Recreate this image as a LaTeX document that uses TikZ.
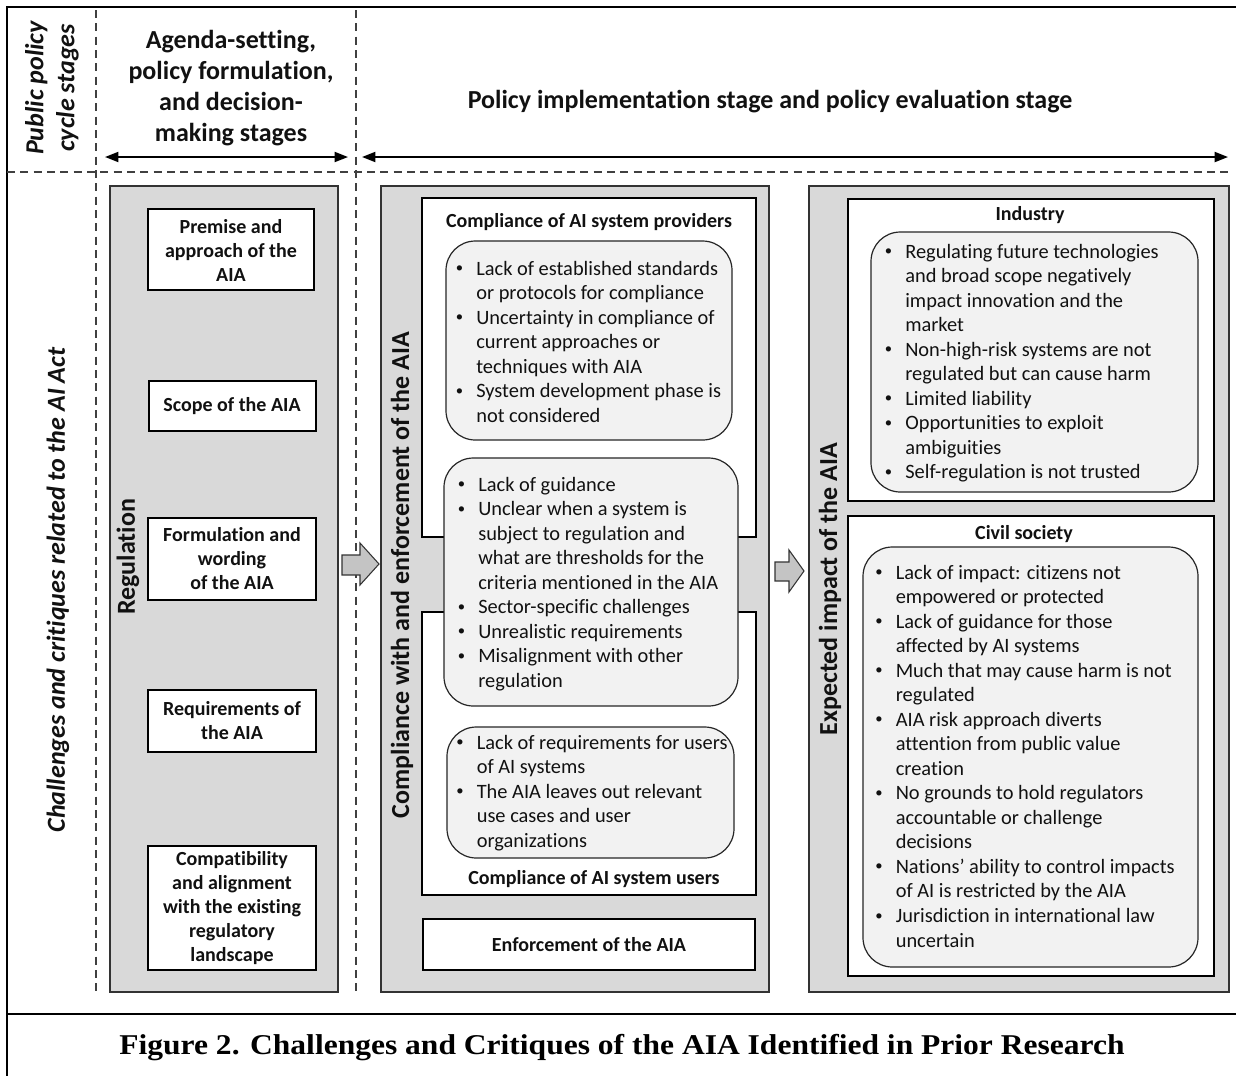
\documentclass[tikz,border=0pt]{standalone}
\usepackage{fontspec}
\setmainfont{Carlito}[Ligatures=NoCommon]
\newfontfamily\capfont{Liberation Serif}
\usetikzlibrary{arrows.meta,fit}
\definecolor{panelgray}{HTML}{D9D9D9}
\definecolor{bubblegray}{HTML}{F2F2F2}
\definecolor{arrowgray}{HTML}{C4C4C4}
\definecolor{ink}{HTML}{111111}
\newcommand\bul{\raisebox{0.12em}{\fontsize{11}{11}\selectfont •}}
\newcommand\blist[1]{\begin{tabular}[t]{@{}p{15.4pt}@{}l@{}}#1\end{tabular}}
\begin{document}
\begin{tikzpicture}[x=0.75pt,y=-0.75pt,
  panel/.style={draw=black!80, line width=1.5pt, fill=panelgray, inner sep=0pt},
  wbox/.style={draw=black, line width=2.2pt, fill=white, inner sep=0pt},
  bubble/.style={draw=black!85, line width=0.9pt, fill=bubblegray, rounded corners=22pt, inner sep=0pt},
  boxtext/.style={font=\bfseries\fontsize{15}{18}\selectfont, align=center, inner sep=0pt, text=ink},
  bigtext/.style={font=\bfseries\fontsize{19.5}{23.25}\selectfont, align=center, inner sep=0pt, text=ink},
  listtext/.style={font=\fontsize{15.3}{18.4}\selectfont, inner sep=0pt, anchor=base west, text=ink},
  dashline/.style={dash pattern=on 6pt off 4pt, line width=0.9pt, draw=black!75},
  frameline/.style={line width=1.8pt},
  dbl/.style={line width=1.4pt, {Triangle[length=10pt,width=7.5pt]}-{Triangle[length=10pt,width=7.5pt]}},
  blockarrow/.style={fill=arrowgray, draw=black!80, line width=0.8pt, line join=miter}]
\useasboundingbox (0,0) rectangle (1236,1076);
% frame
\coordinate (ftl) at (7,7);
\coordinate (ftr) at (1236,7);
\coordinate (fbl) at (7,1076);
\coordinate (cl) at (7,1014);
\coordinate (cr) at (1236,1014);
\draw[frameline] (ftr) -- (ftl) -- (fbl);
\draw[frameline] (cl) -- (cr);
% dashed grid
\coordinate (d1t) at (96,10); \coordinate (d1b) at (96,995);
\coordinate (d2t) at (356,10); \coordinate (d2b) at (356,995);
\coordinate (dhl) at (7,172); \coordinate (dhr) at (1230,172);
\draw[dashline] (d1t) -- (d1b);
\draw[dashline] (d2t) -- (d2b);
\draw[dashline] (dhl) -- (dhr);
% top headings
\node[bigtext, font=\bfseries\itshape\fontsize{19.5}{23.25}\selectfont, rotate=90] (pps) at (52,88) {Public policy\\cycle stages};
\node[bigtext] (agenda) at (231,88) {Agenda-setting,\\policy formulation,\\and decision-\\making stages};
\node[bigtext] (impl) at (770,102) {Policy implementation stage and policy evaluation stage};
\coordinate (a1l) at (105,157); \coordinate (a1r) at (348,157);
\coordinate (a2l) at (362,157); \coordinate (a2r) at (1228,157);
\draw[dbl] (a1l) -- (a1r);
\draw[dbl] (a2l) -- (a2r);
% left rotated label
\node[bigtext, font=\bfseries\itshape\fontsize{19.5}{23.25}\selectfont, rotate=90] (chal) at (58,590) {Challenges and critiques related to the AI Act};
% panels
\node[panel, fit={(110,186) (338,992)}] (regp) {};
\node[panel, fit={(381,186) (769,992)}] (compp) {};
\node[panel, fit={(809,186) (1229,992)}] (impp) {};
\node[bigtext, rotate=90] (reglab) at (128,557) {Regulation};
\node[bigtext, rotate=90] (complab) at (402,575) {Compliance with and enforcement of the AIA};
\node[bigtext, rotate=90] (implab) at (830,589) {Expected impact of the AIA};
% left boxes
\node[wbox, fit={(148,209) (314,290)}] (premb) {};
\node[boxtext] (premt) at (231,250) {Premise and\\approach of the\\AIA};
\node[wbox, fit={(149,381) (316,431)}] (scopeb) {};
\node[boxtext] (scopet) at (232,406) {Scope of the AIA};
\node[wbox, fit={(148,518) (316,600)}] (formb) {};
\node[boxtext] (formt) at (232,559) {Formulation and\\wording\\of the AIA};
\node[wbox, fit={(148,690) (316,752)}] (reqb) {};
\node[boxtext] (reqt) at (232,721) {Requirements of\\the AIA};
\node[wbox, fit={(148,846) (316,970)}] (compb) {};
\node[boxtext] (compt) at (232,908) {Compatibility\\and alignment\\with the existing\\regulatory\\landscape};
% block arrows
\draw[blockarrow] (342,555) -- (360,555) -- (360,543) -- (379,564) -- (360,585) -- (360,575) -- (342,575) -- cycle;
\draw[blockarrow] (775,562) -- (789,562) -- (789,550) -- (804,571) -- (789,592) -- (789,581) -- (775,581) -- cycle;
% middle panel boxes
\node[wbox, fit={(422,198) (756,537)}] (provb) {};
\node[wbox, fit={(422,612) (756,895)}] (userb) {};
\node[wbox, fit={(423,919) (755,970)}] (enfb) {};
\node[boxtext] (provt) at (589,222) {Compliance of AI system providers};
\node[boxtext] (usert) at (594,879) {Compliance of AI system users};
\node[boxtext] (enft) at (589,945) {Enforcement of the AIA};
\node[bubble, fit={(446,241) (732,440)}] (bub1) {};
\node[bubble, fit={(444,458) (738,706)}] (bub2) {};
\node[bubble, fit={(447,727) (734,858)}] (bub3) {};
\node[listtext] (bub1t) at (455.5,275) {\blist{\bul&Lack of established standards\\&or protocols for compliance\\\bul&Uncertainty in compliance of\\&current approaches or\\&techniques with AIA\\\bul&System development phase is\\&not considered}};
\node[listtext] (bub2t) at (457.5,491) {\blist{\bul&Lack of guidance\\\bul&Unclear when a system is\\&subject to regulation and\\&what are thresholds for the\\&criteria mentioned in the AIA\\\bul&Sector-specific challenges\\\bul&Unrealistic requirements\\\bul&Misalignment with other\\&regulation}};
\node[listtext] (bub3t) at (456,749) {\blist{\bul&Lack of requirements for users\\&of AI systems\\\bul&The AIA leaves out relevant\\&use cases and user\\&organizations}};
% right panel boxes
\node[wbox, fit={(848,199) (1214,501)}] (indb) {};
\node[wbox, fit={(848,516) (1214,976)}] (civb) {};
\node[boxtext] (indt) at (1030,215) {Industry};
\node[boxtext] (civt) at (1024,534) {Civil society};
\node[bubble, fit={(871,232) (1198,492)}] (bubi) {};
\node[bubble, fit={(863,547) (1198,967)}] (bubc) {};
\node[listtext] (bubit) at (884.5,258) {\blist{\bul&Regulating future technologies\\&and broad scope negatively\\&impact innovation and the\\&market\\\bul&Non-high-risk systems are not\\&regulated but can cause harm\\\bul&Limited liability\\\bul&Opportunities to exploit\\&ambiguities\\\bul&Self-regulation is not trusted}};
\node[listtext] (bubct) at (875,579) {\blist{\bul&Lack of impact: citizens not\\&empowered or protected\\\bul&Lack of guidance for those\\&affected by AI systems\\\bul&Much that may cause harm is not\\&regulated\\\bul&AIA risk approach diverts\\&attention from public value\\&creation\\\bul&No grounds to hold regulators\\&accountable or challenge\\&decisions\\\bul&Nations' ability to control impacts\\&of AI is restricted by the AIA\\\bul&Jurisdiction in international law\\&uncertain}};
% caption
\node[inner sep=0pt, font=\capfont\bfseries\fontsize{21.5}{26}\selectfont] (cap) at (622,1048) {\scalebox{1.1}[1]{Figure 2. Challenges and Critiques of the AIA Identified in Prior Research}};
\end{tikzpicture}
\end{document}
